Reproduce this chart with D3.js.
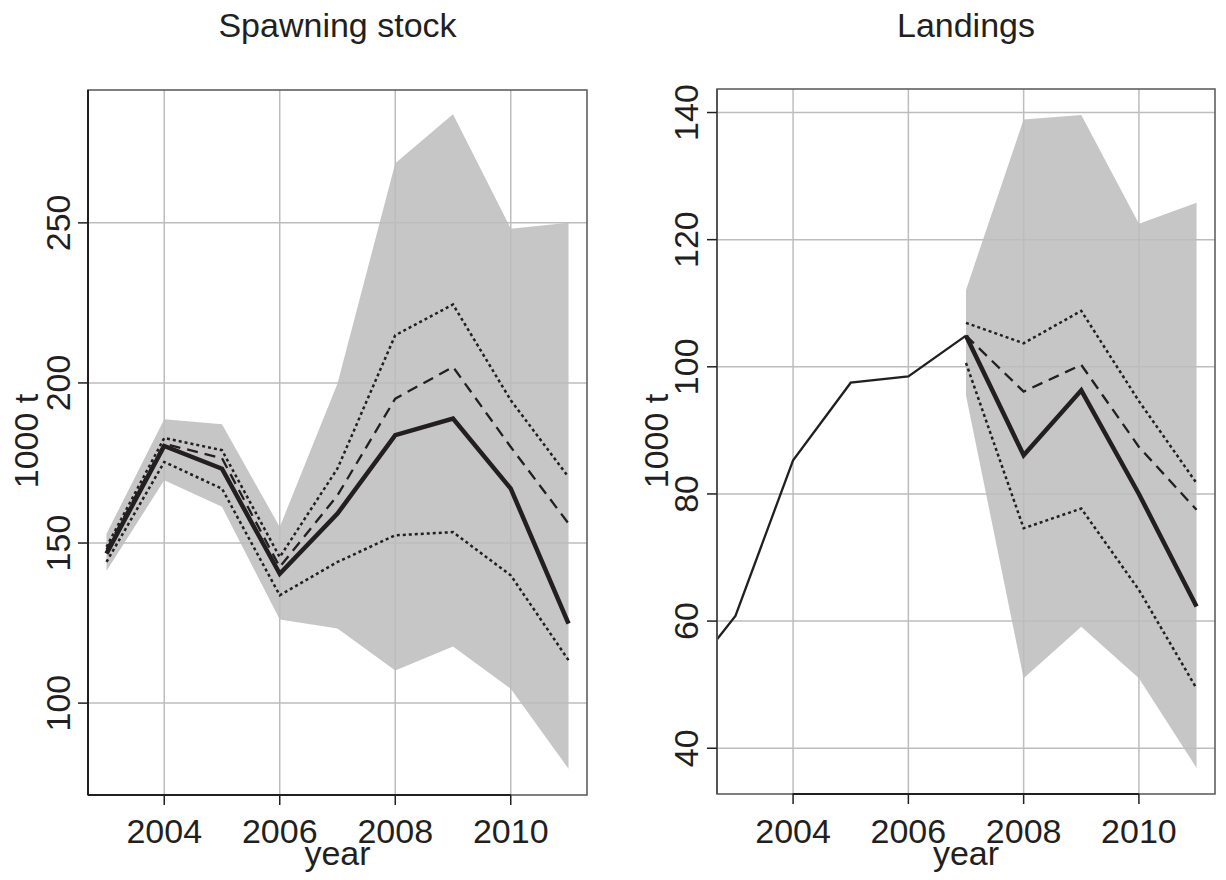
<!DOCTYPE html>
<html>
<head>
<meta charset="utf-8">
<script src="https://cdn.jsdelivr.net/npm/d3@7"></script>
<style>
  body { margin: 0; background: #fff; }
  svg text { font-family: "Liberation Sans", Arial, sans-serif; fill: #231f20; }
</style>
</head>
<body>
<script>
(function () {

    //spawning stock, 1000 t
    var ssbYears = [2003, 2004, 2005, 2006, 2007, 2008, 2009, 2010, 2011];
    var ssbLow    = [141.3, 169.6, 161.3, 126.1, 123.3, 110.2, 117.7, 104.5, 79.5];
    var ssbLowQ   = [144.1, 175.3, 167.0, 133.7, 144.1, 152.4, 153.4, 139.9, 113.4];
    var ssbMedian = [146.7, 180.3, 173.2, 140.4, 159.2, 183.7, 188.9, 167.0, 124.8];
    var ssbMean   = [148.0, 181.0, 176.5, 142.5, 164.9, 195.1, 205.0, 180.0, 156.1];
    var ssbHighQ  = [148.8, 182.8, 179.0, 145.6, 173.3, 214.9, 224.5, 194.6, 170.6];
    var ssbHigh   = [152.9, 188.7, 187.1, 155.0, 199.8, 268.6, 283.9, 248.2, 250.0];

    //landings, 1000 t
    var landYears = [2002, 2003, 2004, 2005, 2006, 2007];
    var landHist  = [49.3, 60.8, 85.3, 97.5, 98.5, 104.9];
    var projYears  = [2007, 2008, 2009, 2010, 2011];
    var landLow    = [95.5, 51.0, 59.1, 51.0, 36.9];
    var landLowQ   = [100.6, 74.6, 77.7, 64.9, 49.4];
    var landMedian = [104.9, 86.1, 96.3, 80.0, 62.3];
    var landMean   = [104.9, 96.1, 100.3, 87.4, 77.5];
    var landHighQ  = [106.9, 103.7, 108.8, 94.6, 81.7];
    var landHigh   = [112.1, 138.9, 139.6, 122.5, 125.8];

    var xTicks = [2004, 2006, 2008, 2010];
    var ssbTicks = [100, 150, 200, 250];
    var landTicks = [40, 60, 80, 100, 120, 140];

    var ink = "#231f20";
    var fontSize = 34;

    var svg = d3.select("body")
        .append("svg")
        .attr("width", 1226)
        .attr("height", 880);

    svg.append("rect")
        .attr("width", 1226)
        .attr("height", 880)
        .attr("fill", "#fff");

    function zip(xs, ys){
        return xs.map(function(x, i){ return [x, ys[i]]; });
    }

    function drawPanel(p){
        var x = d3.scaleLinear().domain([2002.68, 2011.32]).range([p.left, p.right]);
        var y = d3.scaleLinear().domain(p.yDomain).range([p.bottom, p.top]);

        var g = svg.append("g");

        //clip to plot region
        g.append("clipPath")
            .attr("id", p.id)
            .append("rect")
            .attr("x", p.left)
            .attr("y", p.top)
            .attr("width", p.right - p.left)
            .attr("height", p.bottom - p.top);

        var plot = g.append("g").attr("clip-path", "url(#" + p.id + ")");

        //uncertainty band
        var area = d3.area()
            .x(function(d){ return x(d.year); })
            .y0(function(d){ return y(d.lo); })
            .y1(function(d){ return y(d.hi); });

        plot.append("path")
            .datum(p.bandYears.map(function(yr, i){ return {year: yr, lo: p.low[i], hi: p.high[i]}; }))
            .attr("d", area)
            .attr("fill", "#c6c6c6");

        //grid
        plot.selectAll(".gx")
            .data(xTicks)
            .enter()
            .append("line")
            .attr("x1", function(d){ return x(d); })
            .attr("x2", function(d){ return x(d); })
            .attr("y1", p.top)
            .attr("y2", p.bottom)
            .attr("stroke", "#bdbdbd")
            .attr("stroke-width", 1.5);

        plot.selectAll(".gy")
            .data(p.yTicks)
            .enter()
            .append("line")
            .attr("x1", p.left)
            .attr("x2", p.right)
            .attr("y1", function(d){ return y(d); })
            .attr("y2", function(d){ return y(d); })
            .attr("stroke", "#bdbdbd")
            .attr("stroke-width", 1.5);

        var line = d3.line()
            .x(function(d){ return x(d[0]); })
            .y(function(d){ return y(d[1]); });

        //series lines
        p.series.forEach(function(s){
            plot.append("path")
                .datum(zip(s.years, s.values))
                .attr("d", line)
                .attr("fill", "none")
                .attr("stroke", ink)
                .attr("stroke-width", s.width)
                .attr("stroke-dasharray", s.dash || null)
                .attr("stroke-linejoin", "miter");
        });

        //frame
        g.append("rect")
            .attr("x", p.left)
            .attr("y", p.top)
            .attr("width", p.right - p.left)
            .attr("height", p.bottom - p.top)
            .attr("fill", "none")
            .attr("stroke", "#555")
            .attr("stroke-width", 1.5);

        //x axis: line up to the last tick, plus ticks
        g.append("line")
            .attr("x1", p.xLineFrom)
            .attr("x2", x(xTicks[xTicks.length - 1]))
            .attr("y1", p.bottom)
            .attr("y2", p.bottom)
            .attr("stroke", ink)
            .attr("stroke-width", 2);

        g.selectAll(".xt")
            .data(xTicks)
            .enter()
            .append("line")
            .attr("x1", function(d){ return x(d); })
            .attr("x2", function(d){ return x(d); })
            .attr("y1", p.bottom)
            .attr("y2", p.bottom + 10)
            .attr("stroke", ink)
            .attr("stroke-width", 1.5);

        g.selectAll(".xl")
            .data(xTicks)
            .enter()
            .append("text")
            .attr("x", function(d){ return x(d); })
            .attr("y", 843)
            .attr("text-anchor", "middle")
            .attr("font-size", fontSize)
            .text(function(d){ return d; });

        //y axis
        g.append("line")
            .attr("x1", p.left)
            .attr("x2", p.left)
            .attr("y1", p.top)
            .attr("y2", p.bottom)
            .attr("stroke", p.yLineColor)
            .attr("stroke-width", 2);

        g.selectAll(".yt")
            .data(p.yTicks)
            .enter()
            .append("line")
            .attr("x1", p.left - 10)
            .attr("x2", p.left)
            .attr("y1", function(d){ return y(d); })
            .attr("y2", function(d){ return y(d); })
            .attr("stroke", ink)
            .attr("stroke-width", 1.5);

        g.selectAll(".yl")
            .data(p.yTicks)
            .enter()
            .append("text")
            .attr("transform", function(d){
                return "translate(" + p.yLabelX + "," + y(d) + ") rotate(-90)";
            })
            .attr("text-anchor", "middle")
            .attr("font-size", fontSize)
            .text(function(d){ return d; });

        //axis titles
        g.append("text")
            .attr("transform", "translate(" + p.yTitleX + ",441) rotate(-90)")
            .attr("text-anchor", "middle")
            .attr("font-size", fontSize)
            .text("1000 t");

        g.append("text")
            .attr("x", (p.left + p.right) / 2)
            .attr("y", 865)
            .attr("text-anchor", "middle")
            .attr("font-size", fontSize)
            .text("year");

        g.append("text")
            .attr("x", (p.left + p.right) / 2)
            .attr("y", 37)
            .attr("text-anchor", "middle")
            .attr("font-size", fontSize)
            .text(p.title);
    }

    drawPanel({
        id: "clipSsb",
        title: "Spawning stock",
        left: 88, right: 587, top: 90, bottom: 795,
        yDomain: [71.3, 291.5],
        yTicks: ssbTicks,
        yLabelX: 70, yTitleX: 38,
        xLineFrom: 88, yLineColor: ink,
        bandYears: ssbYears, low: ssbLow, high: ssbHigh,
        series: [
            {years: ssbYears, values: ssbLowQ, width: 2.5, dash: "3,3"},
            {years: ssbYears, values: ssbHighQ, width: 2.5, dash: "3,3"},
            {years: ssbYears, values: ssbMean, width: 2.3, dash: "11,7"},
            {years: ssbYears, values: ssbMedian, width: 4.5}
        ]
    });

    drawPanel({
        id: "clipLand",
        title: "Landings",
        left: 717, right: 1215, top: 89, bottom: 794,
        yDomain: [32.8, 143.7],
        yTicks: landTicks,
        yLabelX: 698, yTitleX: 668,
        xLineFrom: 792.7, yLineColor: "#555",
        bandYears: projYears, low: landLow, high: landHigh,
        series: [
            {years: landYears, values: landHist, width: 2.3},
            {years: projYears, values: landLowQ, width: 2.5, dash: "3,3"},
            {years: projYears, values: landHighQ, width: 2.5, dash: "3,3"},
            {years: projYears, values: landMean, width: 2.3, dash: "11,7"},
            {years: projYears, values: landMedian, width: 4.5}
        ]
    });

})();
</script>
</body>
</html>
